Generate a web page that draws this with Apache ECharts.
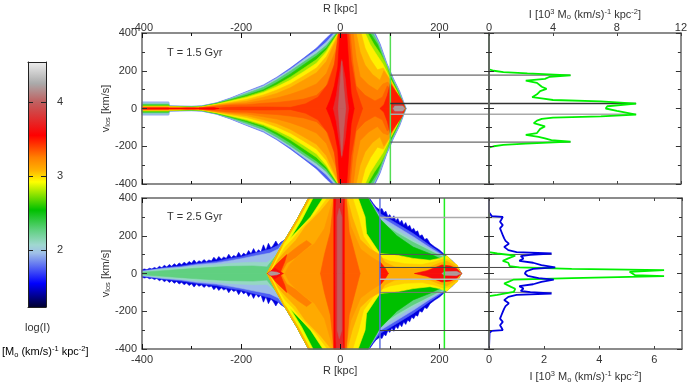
<!DOCTYPE html>
<html>
<head>
<meta charset="utf-8">
<script src="https://cdn.jsdelivr.net/npm/echarts@6/dist/echarts.min.js"></script>
<style>
html,body{margin:0;padding:0;background:#fff}
#chart{width:690px;height:388px}
</style>
</head>
<body>
<div id="chart"></div>
<script>
// colour table of the log(I) scale
var barMin = 1.23, barMax = 4.54
var barTicks = [2, 3, 4]
var barLevels = [1.23, 1.55, 1.96, 2.07, 2.27, 2.54, 2.92, 3.08, 3.25, 3.55, 4.0, 4.25, 4.54]
var barColors = ['#000030', '#0000ff', '#a0c0e8', '#a0d8d0', '#60d080', '#00c000', '#ffff00', '#ffb000', '#ff8000', '#ff0000', '#c06060', '#aaaaaa', '#eeeeee']

// T = 1.5 Gyr, contours of log(I) as [R, v], upper half, painted in order
var t15_160 = [[-400,0],[-400,34],[-346,34],[-345,14],[-300,12],[-280,14],[-250,30],[-222,55],[-189,90],[-155,125],[-128,166],[-101,214],[-74,267],[-48,320],[-28,373],[-17,400],[70,400],[80,345],[94,240],[107,160],[120,90],[130,20],[133,0]]
var t15_200 = [[-400,0],[-400,33],[-346,33],[-345,13],[-300,11],[-280,13],[-250,29],[-222,53],[-189,87],[-155,121],[-128,161],[-101,207],[-74,259],[-48,307],[-28,352],[-12,400],[68,400],[79,342],[93,240],[106,160],[119,90],[129,22],[132,0]]
var t15_230 = [[-400,0],[-400,24],[-346,24],[-345,12],[-300,10],[-280,12],[-250,28],[-222,50],[-189,80],[-155,112],[-128,152],[-101,198],[-74,246],[-48,292],[-28,335],[-8,400],[66,400],[78,340],[92,240],[105,160],[118,90],[128,25],[132,0]]
var t15_260 = [[-400,0],[-400,18],[-346,18],[-345,11],[-300,8],[-280,10],[-250,26],[-222,45],[-189,70],[-155,100],[-128,138],[-101,182],[-74,232],[-48,278],[-28,322],[-6,400],[60,400],[75,340],[90,240],[103,160],[116,90],[127,25],[131,0]]
var t15_278 = [[-400,0],[-400,14],[-346,14],[-345,10],[-300,7],[-280,9],[-250,24],[-222,42],[-189,64],[-155,92],[-128,126],[-101,166],[-74,213],[-48,259],[-28,311],[-5,400],[55,400],[68,340],[81,290],[92,235],[101,160],[115,90],[126,25],[130,0]]
var t15_295 = [[-400,0],[-400,11],[-346,11],[-345,9],[-300,6],[-280,8],[-250,22],[-222,38],[-189,58],[-155,85],[-128,115],[-101,150],[-74,195],[-48,240],[-28,300],[-4,400],[50,400],[60,340],[72,290],[86,235],[100,160],[114,90],[125,25],[130,0]]
var t15_305 = [[-400,0],[-400,10],[-346,10],[-345,8],[-300,5],[-280,7],[-250,20],[-222,33],[-189,48],[-155,72],[-128,98],[-101,130],[-74,172],[-48,215],[-28,275],[-3,400],[42,400],[50,320],[61,260],[75,205],[87,215],[99,160],[113,90],[124,25],[130,0]]
var t15_315 = [[-400,0],[-400,8],[-346,8],[-345,7],[-300,4],[-280,6],[-250,18],[-222,28],[-189,38],[-155,60],[-128,80],[-101,110],[-74,150],[-48,190],[-28,250],[-2,400],[32,400],[40,300],[50,230],[65,180],[80,150],[88,200],[98,160],[112,90],[124,25],[129,0]]
var t15_325 = [[-400,0],[-400,6],[-346,6],[-300,4],[-280,5],[-250,15],[-222,23],[-189,29],[-155,44],[-128,56],[-101,75],[-74,100],[-48,130],[-28,185],[-6,330],[-1,400],[26,400],[32,270],[40,170],[57,125],[75,95],[86,130],[96,140],[110,88],[122,25],[128,0]]
var t15_335 = [[-400,0],[-400,5],[-300,3],[-280,4],[-250,12],[-222,18],[-189,20],[-155,28],[-128,32],[-101,40],[-74,50],[-48,70],[-28,120],[-10,250],[0,400],[20,400],[25,250],[32,120],[50,70],[70,40],[85,60],[95,120],[108,85],[120,25],[127,0]]
var t15_345 = [[-250,0],[-230,6],[-200,8],[-150,8],[-100,6],[-70,25],[-45,60],[-25,130],[-12,230],[-4,400],[17,400],[22,250],[32,100],[45,0]]
var t15_355 = [[-28,0],[-20,50],[-12,120],[-5,220],[-1,400],[13,400],[18,200],[22,80],[28,0]]
var t15_wedge = [[80,0],[88,20],[95,70],[101,134],[112,90],[124,46],[131,0]]
var t15_tailRed = [[-400,0],[-400,3],[-346,3],[-345,0],[-322,0],[-310,3],[-296,3],[-286,0],[-285,3],[-255,5],[-245,0]]
var t15_380 = [[-14,0],[-8,70],[-3,160],[3,260],[10,160],[14,60],[17,0]]
var t15_405 = [[-4,0],[-2,80],[3,250],[7,110],[11,0]]
var t15_wedge380 = [[104,0],[108,24],[124,24],[130,0]]
var t15_wedge420 = [[107,0],[110,13],[126,13],[130,0]]

// T = 2.5 Gyr
var t25_150 = [[-400,0],[-400,20],[-395,24],[-390,20],[-385,28],[-380,24],[-375,32],[-370,26],[-365,38],[-360,30],[-355,44],[-350,34],[-345,48],[-340,38],[-335,52],[-330,42],[-325,56],[-320,46],[-315,60],[-310,50],[-305,64],[-300,54],[-295,72],[-290,56],[-285,68],[-280,60],[-275,74],[-270,62],[-265,72],[-260,66],[-255,86],[-250,72],[-245,90],[-240,76],[-235,88],[-230,80],[-225,102],[-220,84],[-215,96],[-210,88],[-205,112],[-200,92],[-195,108],[-190,98],[-185,122],[-180,104],[-175,132],[-170,108],[-165,126],[-160,114],[-155,152],[-150,122],[-145,160],[-140,135],[-135,150],[-130,172],[-125,150],[-120,165],[-112,178],[-88,283],[-64,400],[57,400],[60,395],[66,372],[72,352],[80,336],[84,345],[88,322],[92,330],[96,302],[100,312],[104,288],[108,306],[112,280],[116,292],[120,268],[124,282],[128,256],[132,270],[136,246],[140,256],[144,230],[148,240],[152,220],[156,226],[160,198],[165,205],[170,180],[175,186],[181,160],[190,142],[200,125],[208,106],[218,85],[228,62],[238,30],[245,0]]
var t25_175 = [[-400,0],[-400,14],[-357,30],[-320,40],[-290,52],[-250,64],[-222,80],[-200,88],[-175,106],[-142,128],[-125,150],[-112,177],[-88,283],[-64,400],[56,400],[80,318],[114,265],[147,212],[181,148],[208,100],[228,57],[244,0]]
var t25_195 = [[-400,0],[-400,12],[-357,26],[-320,34],[-290,46],[-250,56],[-222,68],[-200,78],[-175,92],[-142,108],[-125,130],[-112,177],[-88,283],[-64,400],[56,400],[80,302],[114,248],[147,195],[181,136],[208,94],[228,53],[243,0]]
var t25_210 = [[-400,0],[-400,9],[-357,22],[-320,30],[-290,38],[-250,46],[-222,54],[-175,60],[-148,58],[-129,97],[-112,177],[-88,283],[-64,400],[56,400],[80,288],[114,230],[147,178],[181,126],[208,88],[228,50],[242,0]]
var t25_227 = [[-400,0],[-400,6],[-357,15],[-320,22],[-290,28],[-250,34],[-222,38],[-175,40],[-148,35],[-129,97],[-112,177],[-88,283],[-64,400],[56,400],[80,275],[114,215],[147,165],[181,120],[208,85],[228,48],[241,0]]
var t25_254 = [[-148,0],[-129,97],[-112,177],[-88,283],[-64,400],[56,400],[80,290],[114,200],[147,140],[181,105],[208,70],[232,40],[238,0]]
var t25_rimY = [[-148,0],[-129,97],[-112,177],[-88,283],[-64,400],[-55,400],[-78,283],[-103,177],[-120,97],[-138,0]]
var t25_rimO = [[-148,0],[-129,97],[-112,177],[-88,283],[-64,400],[-61,400],[-85,283],[-109,177],[-126,97],[-144,0]]
var t25_295 = [[-143,0],[-125,90],[-112,165],[-100,190],[-85,230],[-60,300],[-35,400],[36,400],[50,300],[53,212],[80,106],[114,97],[147,80],[181,70],[200,80],[215,95],[228,60],[243,0]]
var t25_303 = [[-141,0],[-125,82],[-111,142],[-96,182],[-78,240],[-50,315],[-26,400],[25,400],[37,300],[47,195],[68,118],[85,82],[100,66],[130,52],[165,48],[190,62],[208,78],[222,70],[236,45],[244,0]]
var t25_310 = [[-140,0],[-125,75],[-110,120],[-90,175],[-70,250],[-40,330],[-18,400],[14,400],[24,300],[40,180],[60,130],[80,100],[90,60],[110,35],[150,25],[181,35],[200,55],[215,65],[232,40],[245,0]]
var t25_ridge2 = [[-130,45],[-112,88],[-98,118],[-85,145],[-68,175],[-58,155],[-75,118],[-90,85],[-108,55],[-120,0],[-132,0]]
var t25_318 = [[-112,0],[-102,48],[-87,88],[-72,122],[-52,158],[-32,238],[-14,400],[11,400],[21,250],[41,130],[61,90],[78,62],[78,0]]
var t25_ridge = [[-144,0],[-130,45],[-118,75],[-108,100],[-112,62],[-122,0]]
var t25_335 = [[-40,0],[-32,100],[-20,220],[-13,400],[12,400],[18,220],[30,100],[40,0]]
var t25_355 = [[-13,0],[-13,400],[8,400],[8,0]]
var t25_wedge = [[80,0],[80,62],[90,30],[97,0]]
var t25_tipL = [[-147,0],[-132,28],[-115,0]]
var t25_tipR = [[150,0],[175,15],[190,30],[205,45],[222,40],[235,25],[244,0]]
var t25_375 = [[-10,0],[-9,340],[-8,400],[6,400],[5,340],[5,0]]
var t25_400 = [[-6,0],[-6,300],[-2,345],[3,300],[3,0]]
var t25_grayL = [[-146,0],[-140,10],[-128,7],[-122,0]]
var t25_grayR = [[205,0],[210,9],[235,11],[243,0]]

// velocity profiles, upper halves then lower halves
var t15GreenV = [400,207,200,193,186,175,168,157,148,136,126,115,104,92,75,60,52,45,38,26,12,0,-12,-32,-42,-48,-55,-64,-78,-95,-108,-118,-130,-140,-150,-158,-168,-175,-186,-193,-200,-207,-400]
var t15GreenI = [0,0,0.3,0.9,2.4,5.1,3.8,3.5,2.3,3.0,3.0,3.3,3.6,3.2,3.0,2.7,3.4,4.0,7.0,9.2,7.4,7.3,8.0,9.2,7.0,4.0,3.3,3.0,2.8,3.5,3.2,3.1,3.0,2.3,3.1,3.5,3.9,5.1,2.3,0.9,0.3,0,0]
var t25BlueV = [400,325,315,304,300,286,274,256,239,221,203,186,173,158,141,124,113,106,99,92,80,67,57,44,32,25,12,0,-12,-25,-32,-44,-57,-67,-80,-92,-99,-106,-113,-124,-141,-158,-173,-186,-203,-221,-239,-256,-274,-286,-300,-304,-315,-400]
var t25BlueI = [0,0,0.02,0.1,0.5,0.45,0.4,0.5,0.4,0.45,0.5,0.55,0.6,0.72,0.55,0.7,1.0,2.27,1.5,1.15,1.25,1.1,1.6,1.9,2.4,1.6,1.35,1.3,1.4,1.8,2.35,1.9,1.6,1.1,1.25,1.15,1.5,2.27,1.0,0.7,0.55,0.72,0.6,0.55,0.5,0.45,0.4,0.5,0.4,0.45,0.5,0.1,0.02,0]
var t25GreenV = [400,113,106,95,80,67,57,39,32,25,18,9,0,-9,-14,-25,-32,-44,-53,-71,-81,-97,-106,-113,-120,-400]
var t25GreenI = [0,0,0.3,0.95,0.7,0.5,0.7,0.75,1.1,3.0,6.35,5.1,5.1,5.3,6.35,3.0,0.9,0.7,0.55,0.8,0.95,0.9,0.95,0.3,0,0]
var t25BaseV = [304,-304]
var t15BaseV = [400,-400]

// connecting lines between the two columns
var t15LineR = 101
var t15LineV = [177,26,-30,-178]
var t15LineI = [5.1,9.2,9.2,5.1]
var t15LineC = ['#444','#333','#aaa','#444']
var t15LineW = [1,1.5,1.5,1]
var t25LineR = 80
var t25LineV = [297,101,32,-30,-100,-302]
var t25LineI = [0.5,2.27,2.4,2.35,2.27,0.5]
var t25LineC = ['#aaa','#555','#444','#bbb','#777','#444']
var t25LineW = [1.5,1,1,1.5,1,1]

function levelColor(l){
  for(var i=0;i<barLevels.length-1;i++){
    if(l<=barLevels[i+1]){
      var f=(l-barLevels[i])/(barLevels[i+1]-barLevels[i])
      return echarts.color.lerp(f,[barColors[i],barColors[i+1]])
    }
  }
  return barColors[barColors.length-1]
}

var t15Layers = [[1.75,t15_160],[2.0,t15_200],[2.3,t15_230],[2.6,t15_260],[2.78,t15_278],[2.95,t15_295],[3.05,t15_305],[3.15,t15_315],[3.25,t15_325],[3.33,t15_335],[3.42,t15_345],[3.48,t15_wedge],[3.55,t15_355],[3.55,t15_tailRed],[3.75,t15_380],[3.98,t15_405],[3.8,t15_wedge380],[4.2,t15_wedge420]]
var t25Layers = [[1.5,t25_150],[1.75,t25_175],[1.95,t25_195],[2.1,t25_210],[2.27,t25_227],[2.54,t25_254],[2.9,t25_rimY],[3.1,t25_rimO],[2.95,t25_295],[3.02,t25_303],[3.1,t25_310],[3.25,t25_ridge2],[3.17,t25_318],[3.45,t25_ridge],[3.33,t25_335],[3.55,t25_355],[3.5,t25_wedge],[3.6,t25_tipL],[3.6,t25_tipR],[3.75,t25_375],[3.98,t25_400],[4.2,t25_grayL],[4.2,t25_grayR]]

var frame = '#666', ink = '#333'
var labelFont = {fontFamily:'Liberation Sans',fontSize:11,color:ink}
var rich = {
  a:{fontFamily:'Liberation Sans',fontSize:11,color:ink},
  sup:{fontFamily:'Liberation Sans',fontSize:7.5,color:ink,padding:[0,0,6,0]},
  sub:{fontFamily:'Liberation Sans',fontSize:7.5,color:ink,padding:[5,0,0,0]}
}
var intTitle = '{a|I [10}{sup|3}{a| M}{sub|o}{a| (km/s)}{sup|-1}{a| kpc}{sup|-2}{a|]}'
var lumTitle = '{a|[M}{sub|o}{a| (km/s)}{sup|-1}{a| kpc}{sup|-2}{a|]}'

var grids = [
  {left:142,top:33,width:347,height:151},
  {left:489,top:33,width:193,height:151},
  {left:142,top:198,width:347,height:151},
  {left:489,top:198,width:193,height:151},
  {left:28,top:62,width:18,height:245}
]
var xAxes = [], yAxes = []

function lineOf(c,w){ return {show:true,onZero:false,lineStyle:{color:c||frame,width:w||1.5}} }

// R axis needs ticks of two lengths on both sides, so each side is a pair of axes
function addRAxes(g,labelSide){
  var first = xAxes.length
  ;['top','bottom'].forEach(function(pos){
    var lab = pos==labelSide
    xAxes.push({gridIndex:g,type:'value',position:pos,min:-400,max:300,z:10,
      axisLine:lineOf(),splitLine:{show:false},
      axisTick:{show:true,inside:true,length:5,customValues:[-400,-200,0,200],lineStyle:{color:'#111'}},
      axisLabel:lab?Object.assign({show:true,margin:pos=='top'?0:5,customValues:[-400,-200,0,200]},labelFont):{show:false}})
    xAxes.push({gridIndex:g,type:'value',position:pos,min:-400,max:300,z:10,
      axisLine:{show:false,onZero:false},splitLine:{show:false},
      axisTick:{show:true,inside:true,length:3,customValues:[-300,-100,100],lineStyle:{color:'#111'}},
      axisLabel:{show:false}})
  })
  return first
}
function addIAxes(g,labelSide,max,step){
  var first = xAxes.length
  ;['top','bottom'].forEach(function(pos){
    var lab = pos==labelSide
    xAxes.push({gridIndex:g,type:'value',position:pos,min:0,max:max,interval:step,z:10,
      name:lab?intTitle:'',nameLocation:'middle',nameGap:pos=='top'?11:21,
      nameTextStyle:{rich:rich},
      axisLine:lineOf(),splitLine:{show:false},
      axisTick:{show:true,inside:true,length:3,lineStyle:{color:'#444'}},
      axisLabel:lab?Object.assign({show:true,margin:pos=='top'?0:5,showMaxLabel:max==12},labelFont):{show:false}})
  })
  return first
}
function addVAxes(g,named,tickColor){
  var first = yAxes.length
  ;['left','right'].forEach(function(pos){
    var lab = named && pos=='left'
    yAxes.push({gridIndex:g,type:'value',position:pos,min:-400,max:400,interval:200,z:10,
      name:lab?'{a|v}{sub|los}{a| [km/s]}':'',nameLocation:'middle',nameGap:30,nameRotate:90,nameMoveOverlap:false,
      nameTextStyle:{rich:rich},
      axisLine:lineOf(),splitLine:{show:false},
      axisTick:{show:true,inside:true,length:5,lineStyle:{color:tickColor}},
      minorTick:{show:true,splitNumber:2,length:3,lineStyle:{color:tickColor}},
      axisLabel:lab?Object.assign({show:true,margin:5},labelFont):{show:false}})
  })
  return first
}

var ax = {
  tlx:addRAxes(0,'top'), tly:addVAxes(0,true,'#333'),
  trx:addIAxes(1,'top',12,4), try_:addVAxes(1,false,'#333'),
  blx:addRAxes(2,'bottom'), bly:addVAxes(2,true,'#333'),
  brx:addIAxes(3,'bottom',7,2), bry:addVAxes(3,false,'#333')
}

function heat(layers,xi,yi){
  return {type:'custom',xAxisIndex:xi,yAxisIndex:yi,silent:true,z:2,
    data:layers.map(function(l,i){return [i]}),
    renderItem:function(params,api){
      var lay = layers[params.dataIndex]
      var col = levelColor(lay[0])
      return {type:'group',children:[1,-1].map(function(sign){
        return {type:'polygon',
          shape:{points:lay[1].map(function(p){return api.coord([p[0],sign*p[1]])})},
          style:{fill:col,stroke:col,lineWidth:0.6}}
      })}
    }}
}
function profile(vs,is,color,width,xi,yi,z){
  return {type:'line',xAxisIndex:xi,yAxisIndex:yi,symbol:'none',silent:true,z:z||4,
    lineStyle:{color:color,width:width},
    data:vs.map(function(v,i){return [is[i],v]})}
}
function vertical(r,color,xi,yi){
  return {type:'line',xAxisIndex:xi,yAxisIndex:yi,symbol:'none',silent:true,z:3,
    lineStyle:{color:color,width:1.5},data:[[r,-400],[r,400]]}
}
function links(r,vs,is,cols,wid,lx,ly,rx,ry){
  var out=[]
  vs.forEach(function(v,i){
    out.push({type:'line',xAxisIndex:lx,yAxisIndex:ly,symbol:'none',silent:true,z:3,
      lineStyle:{color:cols[i],width:wid[i]},data:[[r,v],[300,v]]})
    out.push({type:'line',xAxisIndex:rx,yAxisIndex:ry,symbol:'none',silent:true,z:3,
      lineStyle:{color:cols[i],width:wid[i]},data:[[0,v],[is[i],v]]})
  })
  return out
}

var series = [
  heat(t15Layers,ax.tlx,ax.tly),
  vertical(t15LineR,'#55dd55',ax.tlx,ax.tly)
].concat(
  links(t15LineR,t15LineV,t15LineI,t15LineC,t15LineW,ax.tlx,ax.tly,ax.trx,ax.try_),
  [profile(t15GreenV,t15GreenI,'#00f000',1.8,ax.trx,ax.try_),
   profile(t15BaseV,[0,0],'#0a800a',1.5,ax.trx,ax.try_,5)],
  [heat(t25Layers,ax.blx,ax.bly),
   vertical(t25LineR,'#6070e0',ax.blx,ax.bly),
   vertical(210,'#22ee22',ax.blx,ax.bly)],
  links(t25LineR,t25LineV,t25LineI,t25LineC,t25LineW,ax.blx,ax.bly,ax.brx,ax.bry),
  [profile(t25GreenV,t25GreenI,'#00f000',1.8,ax.brx,ax.bry),
   profile(t25BlueV,t25BlueI,'#0000e0',1.8,ax.brx,ax.bry,5),
   profile(t25BaseV,[0,0],'#0a800a',1.5,ax.brx,ax.bry,6)]
)

// colour bar
xAxes.push({gridIndex:4,type:'category',data:[''],axisLine:lineOf('#222',1),axisTick:{show:false},axisLabel:{show:false},position:'bottom',z:10})
xAxes.push({gridIndex:4,type:'category',data:[''],axisLine:lineOf('#222',1),axisTick:{show:false},axisLabel:{show:false},position:'top',z:10})
var barY = yAxes.length
yAxes.push({gridIndex:4,type:'value',position:'left',min:barMin,max:barMax,z:10,splitLine:{show:false},
  axisLine:lineOf('#222',1),axisTick:{show:true,inside:true,length:5,customValues:barTicks,lineStyle:{color:'#222'}},axisLabel:{show:false}})
yAxes.push({gridIndex:4,type:'value',position:'right',min:barMin,max:barMax,z:10,splitLine:{show:false},
  axisLine:lineOf('#222',1),axisTick:{show:true,inside:true,length:5,customValues:barTicks,lineStyle:{color:'#222'}},
  axisLabel:Object.assign({show:true,margin:11,customValues:barTicks},labelFont)})
series.push({type:'bar',xAxisIndex:xAxes.length-2,yAxisIndex:barY,barWidth:'100%',silent:true,data:[barMax],
  itemStyle:{color:new echarts.graphic.LinearGradient(0,1,0,0,barLevels.map(function(l,i){
    return {offset:(l-barMin)/(barMax-barMin),color:barColors[i]}
  }))}})

var chart = echarts.init(document.getElementById('chart'),null,{renderer:'canvas'})
chart.setOption({
  animation:false,
  backgroundColor:'#fff',
  grid:grids,
  xAxis:xAxes,
  yAxis:yAxes,
  series:series,
  graphic:[
    {type:'text',left:323,top:3,z:20,style:{text:'R [kpc]',font:'11px "Liberation Sans"',fill:ink}},
    {type:'text',left:323,top:365,z:20,style:{text:'R [kpc]',font:'11px "Liberation Sans"',fill:ink}},
    {type:'text',left:167,top:47,z:20,style:{text:'T = 1.5 Gyr',font:'11px "Liberation Sans"',fill:ink}},
    {type:'text',left:167,top:211,z:20,style:{text:'T = 2.5 Gyr',font:'11px "Liberation Sans"',fill:ink}},
    {type:'text',left:25,top:322,z:20,style:{text:'log(I)',font:'11px "Liberation Sans"',fill:ink}},
    {type:'text',left:2,top:345,z:20,style:{text:lumTitle,rich:rich}}
  ]
})
</script>
</body>
</html>
